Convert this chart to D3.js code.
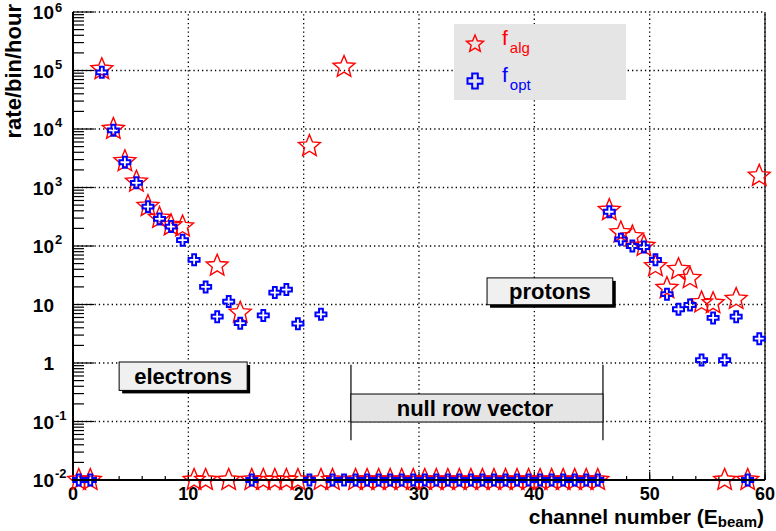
<!DOCTYPE html>
<html>
<head>
<meta charset="utf-8">
<script src="https://cdn.jsdelivr.net/npm/d3@7"></script>
<style>
  html, body { margin: 0; padding: 0; background: #ffffff; }
  svg { display: block; font-family: "Liberation Sans", Arial, Helvetica, sans-serif; }
</style>
</head>
<body>
<svg id="chart" width="776" height="531"></svg>
<script>
// ---- data ----
const channels = [0.5, 1.5, 2.5, 3.5, 4.5, 5.5, 6.5, 7.5, 8.5, 9.5,
  10.5, 11.5, 12.5, 13.5, 14.5, 15.5, 16.5, 17.5, 18.5, 19.5,
  20.5, 21.5, 22.5, 23.5, 24.5, 25.5, 26.5, 27.5, 28.5, 29.5,
  30.5, 31.5, 32.5, 33.5, 34.5, 35.5, 36.5, 37.5, 38.5, 39.5,
  40.5, 41.5, 42.5, 43.5, 44.5, 45.5, 46.5, 47.5, 48.5, 49.5,
  50.5, 51.5, 52.5, 53.5, 54.5, 55.5, 56.5, 57.5, 58.5, 59.5];
const fAlg = [0.01, 0.01, 105000, 10000, 2800, 1250, 480, 300, 225, 215,
  0.01, 0.01, 46, 0.01, 7.2, 0.01, 0.01, 0.01, 0.01, 0.01,
  5100, 0.01, 0.01, 115000, 0.01, 0.01, 0.01, 0.01, 0.01, 0.01,
  0.01, 0.01, 0.01, 0.01, 0.01, 0.01, 0.01, 0.01, 0.01, 0.01,
  0.01, 0.01, 0.01, 0.01, 0.01, 0.01, 410, 170, 145, 100,
  45, 19, 40, 28, 10.8, 10.5, 0.01, 12.4, 0.01, 1580];
const fOpt = [0.01, 0.01, 93000, 9500, 2700, 1200, 470, 290, 215, 126,
  58, 20, 6.2, 11.2, 4.8, 0.01, 6.5, 16, 18, 4.7,
  0.01, 6.8, 0.01, 0.01, 0.01, 0.01, 0.01, 0.01, 0.01, 0.01,
  0.01, 0.01, 0.01, 0.01, 0.01, 0.01, 0.01, 0.01, 0.01, 0.01,
  0.01, 0.01, 0.01, 0.01, 0.01, 0.01, 385, 130, 100, 96,
  58, 15, 8.3, 9.8, 1.12, 5.9, 1.12, 6.2, 0.01, 2.6];
const xTicks = [0, 10, 20, 30, 40, 50, 60];
const yTicks = [1e-2, 1e-1, 1, 10, 1e2, 1e3, 1e4, 1e5, 1e6];
const yTickBase = ["10", "10", "1", "10", "10", "10", "10", "10", "10"];
const yTickExp = ["-2", "-1", "", "", "2", "3", "4", "5", "6"];
const seriesNames = ["alg", "opt"];
const annotations = ["electrons", "protons", "null row vector"];

// ---- layout ----
const svg = d3.select("#chart");
const x = d3.scaleLinear().domain([0, 60]).range([73, 765]);
const y = d3.scaleLog().domain([1e-2, 1e6]).range([480, 12]);

// grid
const grid = svg.append("g").attr("stroke", "#000").attr("stroke-width", 1.3)
  .attr("stroke-dasharray", "1.3 3");
grid.selectAll("line.gx").data(xTicks.filter(d => d > 0)).join("line")
  .attr("x1", d => x(d)).attr("x2", d => x(d)).attr("y1", y(1e-2)).attr("y2", y(1e6));
grid.selectAll("line.gy").data(yTicks.filter(d => d > 1e-2)).join("line")
  .attr("y1", d => y(d)).attr("y2", d => y(d)).attr("x1", x(0)).attr("x2", x(60));

// right frame line
svg.append("line").attr("x1", x(60)).attr("x2", x(60)).attr("y1", y(1e6)).attr("y2", y(1e-2))
  .attr("stroke", "#000").attr("stroke-width", 1.2);

// legend
const leg = svg.append("g");
leg.append("rect").attr("x", 454).attr("y", 24).attr("width", 172).attr("height", 76).attr("fill", "#e5e5e5");

// ---- markers ----
function starPath(R) {
  const r = R * 0.45; let p = [];
  for (let i = 0; i < 10; i++) {
    const a = -Math.PI / 2 + i * Math.PI / 5;
    const rr = i % 2 === 0 ? R : r;
    p.push([rr * Math.cos(a), rr * Math.sin(a)]);
  }
  return "M" + p.map(q => q[0].toFixed(2) + "," + q[1].toFixed(2)).join("L") + "Z";
}
function crossPath(h, w) {
  const pts = [[-w,-h],[w,-h],[w,-w],[h,-w],[h,w],[w,w],[w,h],[-w,h],[-w,w],[-h,w],[-h,-w],[-w,-w]];
  return "M" + pts.map(q => q[0] + "," + q[1]).join("L") + "Z";
}

leg.append("path").attr("d", starPath(9)).attr("transform", "translate(475,44)")
  .attr("fill", "none").attr("stroke", "#ff0000").attr("stroke-width", 1.4);
leg.append("path").attr("d", crossPath(7.5, 2.8)).attr("transform", "translate(475,81)")
  .attr("fill", "none").attr("stroke", "#0000ff").attr("stroke-width", 2);
const lt1 = leg.append("text").attr("x", 502).attr("y", 45).attr("fill", "#ff0000").attr("font-size", 21);
lt1.append("tspan").text("f");
lt1.append("tspan").attr("dy", 8).attr("dx", 2).attr("font-size", 15).text(seriesNames[0]);
const lt2 = leg.append("text").attr("x", 502).attr("y", 82).attr("fill", "#0000ff").attr("font-size", 21);
lt2.append("tspan").text("f");
lt2.append("tspan").attr("dy", 8).attr("dx", 2).attr("font-size", 15).text(seriesNames[1]);

// ---- annotation boxes ----
function shadowBox(x0, x1, v0, v1, label) {
  const g = svg.append("g");
  const X0 = x(x0), X1 = x(x1), Y0 = y(v0), Y1 = y(v1);
  g.append("rect").attr("x", X0 + 3).attr("y", Y0 + 3).attr("width", X1 - X0).attr("height", Y1 - Y0).attr("fill", "#000");
  g.append("rect").attr("x", X0).attr("y", Y0).attr("width", X1 - X0).attr("height", Y1 - Y0)
    .attr("fill", "#f0f0f0").attr("stroke", "#000").attr("stroke-width", 1);
  g.append("text").attr("x", (X0 + X1) / 2).attr("y", (Y0 + Y1) / 2 + 8).attr("text-anchor", "middle")
    .attr("font-size", 22).attr("font-weight", "bold").text(label);
}
shadowBox(4.0, 15.1, 1.04, 0.34, annotations[0]);
shadowBox(35.9, 46.8, 28.5, 9.9, annotations[1]);

// null row vector bracket
(function () {
  const g = svg.append("g");
  const X0 = x(24.1), X1 = x(45.95);
  [X0, X1].forEach(xx => g.append("line").attr("x1", xx).attr("x2", xx)
    .attr("y1", y(0.93)).attr("y2", y(0.048)).attr("stroke", "#000").attr("stroke-width", 1.2));
  const Y0 = y(0.295), Y1 = y(0.098);
  g.append("rect").attr("x", X0).attr("y", Y0).attr("width", X1 - X0).attr("height", Y1 - Y0)
    .attr("fill", "#e5e5e5").attr("stroke", "#000").attr("stroke-width", 1);
  g.append("text").attr("x", (X0 + X1) / 2 - 2).attr("y", (Y0 + Y1) / 2 + 8).attr("text-anchor", "middle")
    .attr("font-size", 22).attr("font-weight", "bold").text(annotations[2]);
})();

// ---- axes ----
const axes = svg.append("g").attr("stroke", "#000");
const yMinor = [];
for (let e = -2; e < 6; e++) for (let m = 2; m <= 9; m++) yMinor.push(m * Math.pow(10, e));
axes.selectAll("line.ym").data(yMinor).join("line")
  .attr("x1", x(0)).attr("x2", x(0) + 11).attr("y1", d => y(d)).attr("y2", d => y(d)).attr("stroke-width", 1.2);
axes.selectAll("line.yM").data(yTicks).join("line")
  .attr("x1", x(0)).attr("x2", x(0) + 21).attr("y1", d => y(d)).attr("y2", d => y(d)).attr("stroke-width", 1.2);
const xMinor = d3.range(0, 61, 2);
axes.selectAll("line.xm").data(xMinor).join("line")
  .attr("x1", d => x(d)).attr("x2", d => x(d)).attr("y1", y(1e-2)).attr("y2", y(1e-2) - 4).attr("stroke-width", 1.2);
axes.selectAll("line.xM").data(xTicks).join("line")
  .attr("x1", d => x(d)).attr("x2", d => x(d)).attr("y1", y(1e-2)).attr("y2", y(1e-2) - 8).attr("stroke-width", 1.2);
axes.append("line").attr("x1", x(0)).attr("x2", x(0)).attr("y1", y(1e6)).attr("y2", y(1e-2) + 1).attr("stroke-width", 2);

// tick labels
const ylab = svg.append("g").attr("font-size", 19).attr("font-weight", "bold");
yTicks.forEach((v, i) => {
  ylab.append("text").attr("x", 54).attr("y", y(v) + 7).attr("text-anchor", "end").text(yTickBase[i]);
  if (yTickExp[i]) ylab.append("text").attr("x", 55).attr("y", Math.max(y(v) - 2, 12)).attr("font-size", 13).text(yTickExp[i]);
});
svg.append("g").attr("font-size", 18).attr("font-weight", "bold")
  .selectAll("text").data(xTicks).join("text")
  .attr("x", d => x(d)).attr("y", 500).attr("text-anchor", "middle").text(d => d);

// axis titles
svg.append("text").attr("transform", "translate(21,4) rotate(-90)").attr("text-anchor", "end")
  .attr("font-size", 22).attr("font-weight", "bold").text("rate/bin/hour");
const xt = svg.append("text").attr("x", 764).attr("y", 524).attr("text-anchor", "end")
  .attr("font-size", 21).attr("font-weight", "bold");
xt.append("tspan").text("channel number (E");
xt.append("tspan").attr("dy", 3).attr("font-size", 15).text("beam");
xt.append("tspan").attr("dy", -3).text(")");

// ---- data markers ----
const algPts = channels.map((c, i) => ({ c, v: fAlg[i] }));
const optPts = channels.map((c, i) => ({ c, v: fOpt[i] }));
svg.append("g").selectAll("path").data(algPts).join("path")
  .attr("d", starPath(11.5)).attr("transform", d => `translate(${x(d.c)},${y(d.v)})`)
  .attr("fill", "none").attr("stroke", "#ff0000").attr("stroke-width", 1.4);
svg.append("g").selectAll("path").data(optPts).join("path")
  .attr("d", crossPath(5.5, 1.9)).attr("transform", d => `translate(${x(d.c)},${y(d.v)})`)
  .attr("fill", "none").attr("stroke", "#0000ff").attr("stroke-width", 2);

// x axis line on top
svg.append("line").attr("x1", x(0) - 1).attr("x2", x(60)).attr("y1", y(1e-2)).attr("y2", y(1e-2))
  .attr("stroke", "#000").attr("stroke-width", 2);
</script>
</body>
</html>
